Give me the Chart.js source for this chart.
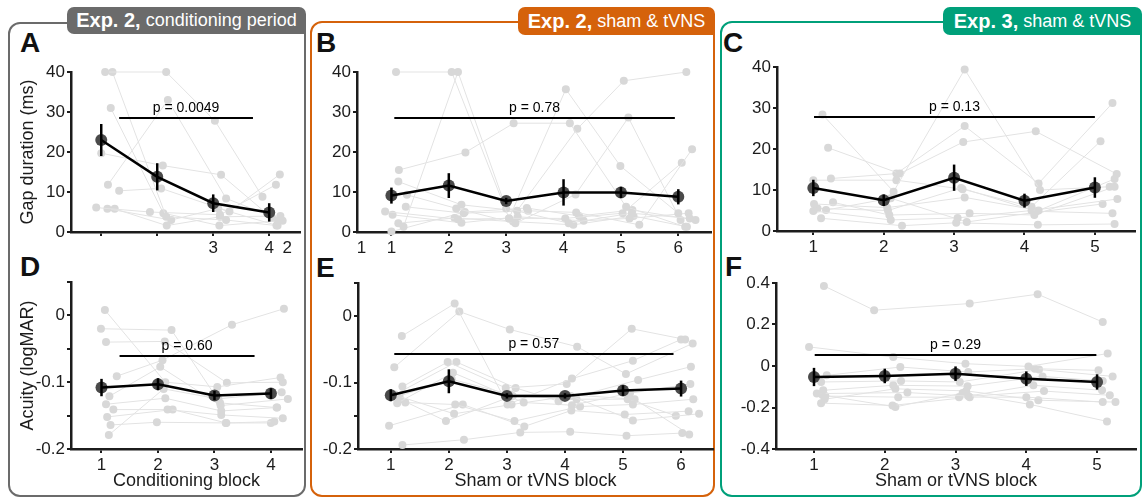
<!DOCTYPE html>
<html lang="en">
<head>
<meta charset="UTF-8">
<title>Gap duration and acuity across blocks</title>
<script src="https://cdn.jsdelivr.net/npm/chart.js"></script>
<style>
  body { margin: 0; width: 1146px; height: 502px; position: relative; overflow: hidden; background: #fff;
         font-family: "Liberation Sans", Arial, sans-serif; color: #111; }
  .frame { position: absolute; border: 2.5px solid; border-radius: 12px; box-sizing: border-box; }
  .tab { position: absolute; color: #fff; border-radius: 7px 7px 0 7px; box-sizing: border-box;
         display: flex; align-items: center; justify-content: center; white-space: nowrap; font-size: 18px; }
  .tab b { font-size: 20px; margin-right: 5px; }
  .letter { position: absolute; font-weight: bold; font-size: 28px; line-height: 28px; }
  canvas { position: absolute; }
</style>
</head>
<body>

<div class="frame" style="left:8px;top:22px;width:298px;height:475px;border-color:#6b6b6b"></div>
<div class="frame" style="left:310px;top:21px;width:405px;height:476px;border-color:#d5620b"></div>
<div class="frame" style="left:720px;top:21px;width:422px;height:476px;border-color:#00a07a"></div>

<div class="tab" style="left:67px;top:7px;width:239px;height:27px;background:#6b6b6b"><b>Exp. 2,</b>conditioning period</div>
<div class="tab" style="left:518px;top:7px;width:197px;height:28px;background:#d5620b"><b>Exp. 2,</b>sham &amp; tVNS</div>
<div class="tab" style="left:943px;top:7px;width:199px;height:28px;background:#00a07a"><b>Exp. 3,</b>sham &amp; tVNS</div>

<div class="letter" style="left:20px;top:29px">A</div>
<div class="letter" style="left:20px;top:253px">D</div>
<div class="letter" style="left:316px;top:29px">B</div>
<div class="letter" style="left:316px;top:254px">E</div>
<div class="letter" style="left:723px;top:29px">C</div>
<div class="letter" style="left:725px;top:253px">F</div>

<canvas id="cA"></canvas>
<canvas id="cB"></canvas>
<canvas id="cC"></canvas>
<canvas id="cD"></canvas>
<canvas id="cE"></canvas>
<canvas id="cF"></canvas>

<script>
// ---- A: Exp. 2 conditioning blocks, gap duration (ms)
const blocksA = [1, 2, 3, 4];
const meanA = [23, 13.8, 7.2, 4.9];
const semA = [4.0, 3.4, 2.2, 2.3];
const subjA = [
  [40, 40, 27.8, 8.8],
  [40, 3.8, 3.0, 1.6],
  [31, 4.7, 1.6, 2.8],
  [19.7, 16.6, 14.3, 3.5],
  [11.8, 33, 8.4, 2.8],
  [10.3, 10.9, 5.1, 14.4],
  [6.1, 5.0, 4.3, 11.8],
  [5.8, 3.0, 5.9, 1.6],
  [5.8, 1.6, 3.8, 4.0]
];
const jitA = [
  [0.07, 0.16, 0.03, -0.12],
  [0.20, 0.16, 0.23, 0.13],
  [0.17, 0.11, 0.11, 0.16],
  [0.00, 0.10, 0.14, 0.05],
  [0.12, 0.19, 0.23, 0.24],
  [0.32, 0.07, 0.29, 0.19],
  [-0.09, -0.13, 0.12, 0.12],
  [0.11, 0.25, 0.09, 0.15],
  [0.24, 0.17, 0.12, 0.20]
];
const pLineA = [1.32, 3.71, 28.6];
const pTextA = 'p = 0.0049';
const xTicksA = [1, 2, 3, 4, 4.32];
const xLabelsA = ['', '', '3', '4', '2'];

// ---- D: Exp. 2 conditioning blocks, acuity (logMAR)
const meanD = [-0.108, -0.103, -0.120, -0.117];
const semD = [0.013, 0.009, 0.007, 0.008];
const subjD = [
  [0.008, -0.100, -0.107, -0.093],
  [-0.020, -0.022, -0.131, -0.138],
  [-0.040, -0.039, -0.101, -0.100],
  [-0.091, -0.067, -0.014, 0.010],
  [-0.121, -0.077, -0.135, -0.125],
  [-0.133, -0.124, -0.143, -0.138],
  [-0.141, -0.141, -0.149, -0.154],
  [-0.152, -0.141, -0.161, -0.159],
  [-0.164, -0.160, -0.161, -0.161],
  [-0.179, -0.110, -0.125, -0.115]
];
const jitD = [
  [0.06, 0.13, 0.05, 0.17],
  [-0.01, 0.24, 0.10, 0.11],
  [0.08, 0.12, 0.22, 0.21],
  [0.27, 0.08, 0.31, 0.23],
  [0.14, 0.04, 0.11, 0.30],
  [0.08, 0.13, 0.12, 0.10],
  [0.21, 0.17, 0.12, 0.21],
  [0.10, 0.26, 0.21, 0.06],
  [0.16, -0.02, 0.20, 0.00],
  [0.13, 0.10, 0.07, 0.19]
];
const pLineD = [1.32, 3.71, -0.061];
const pTextD = 'p = 0.60';

// ---- B: Exp. 2 sham & tVNS blocks, gap duration (ms)
const blocksB = [1, 2, 3, 4, 5, 6];
const meanB = [9.1, 11.6, 7.75, 9.9, 9.9, 8.8];
const semB = [2.0, 3.1, 0.8, 3.3, 1.4, 1.9];
const subjB = [
  [40, 40, 3.4, 35.7, 16.5, 4.7],
  [1.3, 40, 5.9, 2.2, 4.7, 3.4],
  [15.5, 19.9, 27.2, 27.2, 6.3, 1.3],
  [12.6, 6.8, 5.3, 25.8, 37.8, 40],
  [9.3, 5.9, 2.2, 9.4, 28.6, 3.0],
  [6.3, 4.7, 5.3, 4.9, 1.8, 20.7],
  [5.1, 3.2, 3.4, 3.4, 4.7, 17.3],
  [4.3, 2.3, 3.8, 2.8, 3.4, 4.7],
  [2.2, 3.5, 2.6, 1.8, 4.0, 1.3],
  [0.1, 5.0, 6.0, 4.0, 5.5, 3.0]
];
const jitB = [
  [0.08, 0.05, 0.05, 0.04, -0.01, 0.00],
  [0.21, 0.16, 0.00, 0.09, 0.19, 0.20],
  [0.13, 0.29, 0.13, 0.11, 0.09, 0.12],
  [0.12, 0.22, 0.19, 0.24, 0.05, 0.14],
  [0.27, 0.13, 0.16, 0.21, 0.13, 0.04],
  [0.25, 0.26, 0.38, 0.22, 0.32, 0.24],
  [-0.11, 0.16, 0.05, 0.03, 0.03, 0.06],
  [0.02, 0.22, 0.20, 0.35, 0.15, 0.18],
  [0.12, 0.10, 0.12, 0.17, 0.22, 0.15],
  [0.00, 0.28, 0.36, 0.27, 0.20, 0.30]
];
const pLineB = [1.05, 5.94, 28.6];
const pTextB = 'p = 0.78';
const xTicksB = [0.48, 1, 2, 3, 4, 5, 6];
const xLabelsB = ['1', '1', '2', '3', '4', '5', '6'];

// ---- E: Exp. 2 sham & tVNS blocks, acuity (logMAR)
const meanE = [-0.119, -0.098, -0.120, -0.120, -0.112, -0.109];
const semE = [0.009, 0.018, 0.004, 0.004, 0.008, 0.012];
const subjE = [
  [-0.030, 0.019, -0.133, -0.094, -0.067, -0.035],
  [-0.077, 0.007, -0.020, -0.046, -0.087, -0.041],
  [-0.106, -0.069, -0.108, -0.102, -0.019, -0.035],
  [-0.118, -0.069, -0.108, -0.128, -0.096, -0.076],
  [-0.131, -0.085, -0.130, -0.134, -0.116, -0.102],
  [-0.130, -0.133, -0.158, -0.136, -0.133, -0.125],
  [-0.165, -0.133, -0.166, -0.142, -0.148, -0.143],
  [-0.194, -0.186, -0.175, -0.174, -0.180, -0.176],
  [-0.120, -0.147, -0.133, -0.120, -0.157, -0.147],
  [-0.125, -0.158, -0.120, -0.125, -0.125, -0.150],
  [-0.120, -0.095, -0.118, -0.118, -0.125, -0.178]
];
const jitE = [
  [0.19, 0.10, 0.01, 0.12, 0.17, 0.00],
  [0.06, 0.18, 0.05, 0.21, 0.05, 0.20],
  [0.20, -0.02, -0.02, 0.03, 0.15, 0.07],
  [0.07, 0.13, 0.15, -0.11, 0.26, 0.17],
  [0.11, 0.07, 0.29, 0.12, 0.12, 0.16],
  [0.25, 0.11, 0.13, 0.26, 0.17, 0.21],
  [-0.03, 0.24, 0.30, 0.11, 0.03, 0.13],
  [0.20, 0.26, 0.23, 0.09, 0.06, 0.02],
  [0.12, 0.09, 0.08, 0.10, 0.17, 0.31],
  [0.16, -0.05, 0.10, 0.20, 0.08, -0.09],
  [0.15, 0.05, 0.06, 0.02, 0.20, 0.14]
];
const pLineE = [1.06, 5.87, -0.057];
const pTextE = 'p = 0.57';

// ---- C: Exp. 3 sham & tVNS blocks, gap duration (ms)
const blocksC = [1, 2, 3, 4, 5];
const meanC = [10.5, 7.5, 13.0, 7.4, 10.6];
const semC = [2.0, 1.4, 3.2, 1.7, 2.5];
const subjC = [
  [28.4, 9.6, 39.4, 10.0, 10.8],
  [20.3, 14.0, 21.7, 24.3, 13.9],
  [12.8, 14.0, 25.6, 11.6, 31.2],
  [12.4, 12.4, 10.2, 5.9, 21.9],
  [6.6, 5.7, 8.2, 5.0, 12.7],
  [7.0, 3.9, 4.3, 3.9, 10.8],
  [4.9, 2.7, 3.2, 5.0, 7.8],
  [5.1, 8.0, 2.2, 4.5, 6.6],
  [3.1, 1.3, 2.0, 1.5, 1.7],
  [5.5, 5.0, 10.5, 4.8, 4.3]
];
const jitC = [
  [0.13, 0.14, 0.15, 0.22, 0.21],
  [0.21, 0.23, 0.13, 0.16, 0.31],
  [0.25, 0.18, 0.15, 0.20, 0.25],
  [0.00, 0.18, 0.12, 0.10, 0.08],
  [0.01, 0.05, 0.15, 0.20, 0.28],
  [0.28, 0.08, 0.22, 0.14, 0.28],
  [0.00, 0.10, 0.05, 0.10, 0.32],
  [0.18, 0.10, 0.18, 0.14, 0.11],
  [0.11, 0.26, 0.03, 0.19, 0.28],
  [0.06, 0.06, 0.10, 0.17, 0.25]
];
const pLineC = [1.01, 5.0, 27.7];
const pTextC = 'p = 0.13';

// ---- F: Exp. 3 sham & tVNS blocks, acuity (logMAR)
const meanF = [-0.053, -0.048, -0.037, -0.061, -0.077];
const semF = [0.044, 0.035, 0.035, 0.035, 0.037];
const subjF = [
  [0.386, 0.269, 0.301, 0.346, 0.212],
  [0.092, 0.043, 0.011, -0.002, 0.060],
  [-0.045, -0.005, -0.029, -0.013, -0.021],
  [-0.077, -0.072, -0.077, -0.017, -0.050],
  [-0.117, -0.093, -0.097, -0.050, -0.072],
  [-0.133, -0.128, -0.145, -0.093, -0.117],
  [-0.145, -0.150, -0.150, -0.121, -0.141],
  [-0.179, -0.190, -0.150, -0.150, -0.174],
  [-0.140, -0.197, -0.130, -0.185, -0.267],
  [-0.160, -0.110, -0.120, -0.165, -0.174]
];
const jitF = [
  [0.14, -0.15, 0.20, 0.16, 0.08],
  [-0.07, 0.12, 0.14, 0.03, 0.15],
  [0.18, 0.22, 0.18, 0.12, 0.02],
  [0.10, 0.23, 0.06, 0.18, 0.22],
  [0.13, 0.12, 0.17, 0.23, 0.08],
  [0.04, 0.32, 0.18, 0.10, 0.07],
  [0.16, 0.19, 0.05, 0.25, 0.18],
  [0.10, 0.11, 0.20, 0.00, 0.08],
  [0.12, 0.15, 0.10, 0.05, 0.14],
  [0.15, 0.15, 0.15, 0.17, 0.26]
];
const pLineF = [1.01, 4.99, 0.055];
const pTextF = 'p = 0.29';

// shared tick sets
const gapTicks = [0, 10, 20, 30, 40];
const gapLabels = ['0', '10', '20', '30', '40'];
const acuTicks = [-0.2, -0.15, -0.1, -0.05, 0, 0.05];
const acuLabels = ['-0.2', '', '-0.1', '', '0', ''];
const acuTicksF = [-0.4, -0.2, 0, 0.2, 0.4];
const acuLabelsF = ['-0.4', '-0.2', '0', '0.2', '0.4'];

Chart.defaults.font.family = '"Liberation Sans", Arial, sans-serif';
const ink = '#1c1c1c';

function axis(isX, min, max, vals, labels, title, size) {
  return {
    type: 'linear', min: min, max: max,
    afterBuildTicks: s => { s.ticks = vals.map(v => ({ value: v })); },
    afterFit: s => { if (isX) s.height = size; else s.width = size; },
    ticks: {
      autoSkip: false, maxRotation: 0, minRotation: 0, padding: 2,
      color: ink, font: { size: 17 },
      callback: (v, i) => labels[i]
    },
    grid: {
      drawOnChartArea: false, drawTicks: true, tickLength: 4, lineWidth: 2,
      // stray labels on the x axis carry no tick mark
      color: c => (!isX || (c.tick && Number.isInteger(c.tick.value))) ? ink : 'rgba(0,0,0,0)'
    },
    border: { display: true, color: ink, width: 2.5 },
    title: {
      display: !!title, text: title || '', color: ink, font: { size: 18 },
      padding: isX ? { top: 0, bottom: 1 } : { top: 5, bottom: 0 }
    }
  };
}

// error bars and the p-value bracket, drawn over the datasets
function meanErr(d) {
  return {
    id: 'meanErr',
    afterDatasetsDraw(chart) {
      const { ctx } = chart;
      const xs = chart.scales.x, ys = chart.scales.y;
      ctx.save();
      ctx.strokeStyle = '#000';
      ctx.lineWidth = 2.5;
      d.blocks.forEach((b, i) => {
        const px = xs.getPixelForValue(b);
        ctx.beginPath();
        ctx.moveTo(px, ys.getPixelForValue(d.mean[i] - d.sem[i]));
        ctx.lineTo(px, ys.getPixelForValue(d.mean[i] + d.sem[i]));
        ctx.stroke();
      });
      const [x1, x2, yv] = d.pLine;
      const py = Math.round(ys.getPixelForValue(yv));
      ctx.lineWidth = 2;
      ctx.beginPath();
      ctx.moveTo(xs.getPixelForValue(x1), py);
      ctx.lineTo(xs.getPixelForValue(x2), py);
      ctx.stroke();
      ctx.fillStyle = '#000';
      ctx.font = '14px "Liberation Sans", Arial, sans-serif';
      ctx.textAlign = 'center';
      ctx.textBaseline = 'alphabetic';
      ctx.fillText(d.pText, xs.getPixelForValue((x1 + x2) / 2), py - 6);
      ctx.restore();
    }
  };
}

function makePanel(id, box, d) {
  const yW = d.yTitle ? 59 : 50, padT = 14, padR = 14;
  const xH = d.xTitle ? 44 : 28;
  const cv = document.getElementById(id);
  cv.width = yW + box.R - box.L + padR;
  cv.height = padT + box.B - box.T + xH;
  cv.style.left = (box.L - yW) + 'px';
  cv.style.top = (box.T - padT) + 'px';

  const meanPts = d.blocks.map((b, i) => ({ x: b, y: d.mean[i] }));
  const datasets = [
    { data: meanPts, showLine: true, borderColor: '#000', borderWidth: 2.5, pointRadius: 0, order: 0 },
    { data: meanPts, showLine: false, pointRadius: 6, pointBackgroundColor: '#4a4a4a', pointBorderWidth: 0, order: 1 }
  ];
  d.subj.forEach((vals, k) => datasets.push({
    data: vals.map((v, i) => ({ x: d.blocks[i] + d.jit[k][i], y: v })),
    showLine: true, borderColor: '#e3e3e3', borderWidth: 1,
    pointRadius: 4, pointBackgroundColor: '#d8d8d8', pointBorderWidth: 0, order: 2 + k
  }));
  datasets.forEach(ds => { ds.clip = false; ds.tension = 0; });

  new Chart(cv, {
    type: 'scatter',
    data: { datasets },
    options: {
      responsive: false, animation: false, events: [],
      layout: { padding: { top: padT, right: padR, left: 0, bottom: 0 } },
      plugins: { legend: { display: false }, tooltip: { enabled: false } },
      scales: {
        x: axis(true, box.xMin, box.xMax, d.xTicks, d.xLabels, d.xTitle, xH),
        y: axis(false, box.yMin, box.yMax, d.yTicks, d.yLabels, d.yTitle, yW)
      }
    },
    plugins: [meanErr(d)]
  });
}

makePanel('cA', { L: 71, R: 300, T: 72, B: 232, xMin: 0.46, xMax: 4.55, yMin: 0, yMax: 40 }, {
  blocks: blocksA, mean: meanA, sem: semA, subj: subjA, jit: jitA, pLine: pLineA, pText: pTextA,
  xTicks: xTicksA, xLabels: xLabelsA, yTicks: gapTicks, yLabels: gapLabels, yTitle: 'Gap duration (ms)'
});
makePanel('cD', { L: 71, R: 302, T: 282, B: 449, xMin: 0.46, xMax: 4.55, yMin: -0.2, yMax: 0.05 }, {
  blocks: blocksA, mean: meanD, sem: semD, subj: subjD, jit: jitD, pLine: pLineD, pText: pTextD,
  xTicks: blocksA, xLabels: blocksA.map(String), yTicks: acuTicks, yLabels: acuLabels,
  yTitle: 'Acuity (logMAR)', xTitle: 'Conditioning block'
});
makePanel('cB', { L: 357, R: 711, T: 72, B: 232, xMin: 0.40, xMax: 6.57, yMin: 0, yMax: 40 }, {
  blocks: blocksB, mean: meanB, sem: semB, subj: subjB, jit: jitB, pLine: pLineB, pText: pTextB,
  xTicks: xTicksB, xLabels: xLabelsB, yTicks: gapTicks, yLabels: gapLabels
});
makePanel('cE', { L: 358, R: 713, T: 283, B: 449, xMin: 0.435, xMax: 6.55, yMin: -0.2, yMax: 0.05 }, {
  blocks: blocksB, mean: meanE, sem: semE, subj: subjE, jit: jitE, pLine: pLineE, pText: pTextE,
  xTicks: blocksB, xLabels: blocksB.map(String), yTicks: acuTicks, yLabels: acuLabels,
  xTitle: 'Sham or tVNS block'
});
makePanel('cC', { L: 777, R: 1135, T: 67, B: 231, xMin: 0.484, xMax: 5.57, yMin: 0, yMax: 40 }, {
  blocks: blocksC, mean: meanC, sem: semC, subj: subjC, jit: jitC, pLine: pLineC, pText: pTextC,
  xTicks: blocksC, xLabels: blocksC.map(String), yTicks: gapTicks, yLabels: gapLabels
});
makePanel('cF', { L: 776, R: 1136, T: 283, B: 449, xMin: 0.463, xMax: 5.55, yMin: -0.4, yMax: 0.4 }, {
  blocks: blocksC, mean: meanF, sem: semF, subj: subjF, jit: jitF, pLine: pLineF, pText: pTextF,
  xTicks: blocksC, xLabels: blocksC.map(String), yTicks: acuTicksF, yLabels: acuLabelsF,
  xTitle: 'Sham or tVNS block'
});
</script>
</body>
</html>
